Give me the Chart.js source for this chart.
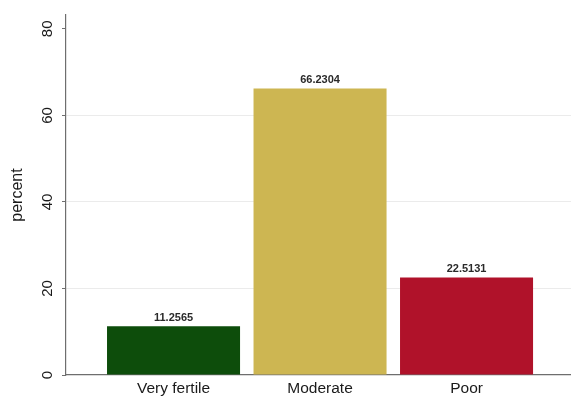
<!DOCTYPE html>
<html>
<head>
<meta charset="utf-8">
<script src="https://cdn.jsdelivr.net/npm/chart.js@4"></script>
<style>
html,body{margin:0;padding:0;background:#fff;}
#wrap{width:571px;height:402px;position:relative;}
</style>
</head>
<body>
<div id="wrap"><canvas id="c" width="571" height="402"></canvas></div>
<script>
const categories = ['Very fertile', 'Moderate', 'Poor'];
const percentValues = [11.2565, 66.2304, 22.5131];
const valueLabels = ['11.2565', '66.2304', '22.5131'];
const yTickValues = [0, 20, 40, 60, 80];
const barColors = ['#0d4d0b', '#cdb652', '#b0122a'];

const FONT = '"Liberation Sans", Arial, Helvetica, sans-serif';

const valueLabelPlugin = {
  id: 'valueLabels',
  afterDatasetsDraw(chart) {
    const ctx = chart.ctx;
    const meta = chart.getDatasetMeta(0);
    ctx.save();
    ctx.fillStyle = '#2a2a2a';
    ctx.font = 'bold 11px ' + FONT;
    ctx.textAlign = 'center';
    ctx.textBaseline = 'alphabetic';
    meta.data.forEach((el, i) => {
      ctx.fillText(valueLabels[i], el.x, el.y - 5.5);
    });
    ctx.restore();
  }
};

new Chart(document.getElementById('c'), {
  type: 'bar',
  data: {
    datasets: [{
      data: percentValues.map((v, i) => ({ x: i + 1, y: v })),
      backgroundColor: barColors,
      borderWidth: 0,
      categoryPercentage: 1,
      barPercentage: 0.908
    }]
  },
  options: {
    responsive: false,
    animation: false,
    devicePixelRatio: 1,
    layout: { padding: { top: 8, right: 0, bottom: 0, left: 0 } },
    plugins: { legend: { display: false }, tooltip: { enabled: false } },
    scales: {
      x: {
        type: 'linear',
        offset: false,
        min: 0.266,
        max: 3.713,
        afterBuildTicks: s => { s.ticks = categories.map((c, i) => ({ value: i + 1 })); },
        afterFit: s => { s.height = 27; },
        grid: { display: false, drawTicks: false, offset: false },
        border: { display: true, color: '#6e6e6e', width: 1.2 },
        ticks: {
          padding: 4,
          color: '#1a1a1a',
          font: { family: FONT, size: 15.5 },
          maxRotation: 0,
          callback: v => categories[Math.round(v) - 1] || ''
        }
      },
      y: {
        type: 'linear',
        min: 0,
        max: 83.2,
        afterBuildTicks: s => { s.ticks = yTickValues.map(v => ({ value: v })); },
        afterFit: s => { s.width = 66; },
        grid: {
          color: ctx => (ctx.tick && (ctx.tick.value === 0 || ctx.tick.value === 80)) ? 'rgba(0,0,0,0)' : '#ebebeb',
          tickColor: '#6e6e6e',
          tickLength: 4,
          lineWidth: 1
        },
        border: { display: true, color: '#6e6e6e', width: 1.2 },
        ticks: {
          minRotation: 90,
          maxRotation: 90,
          crossAlign: 'center',
          padding: 6,
          color: '#1a1a1a',
          font: { family: FONT, size: 15 },
          callback: v => String(v)
        },
        title: {
          display: true,
          text: 'percent',
          color: '#1a1a1a',
          font: { family: FONT, size: 16 },
          padding: { top: 8, bottom: 0 }
        }
      }
    }
  },
  plugins: [valueLabelPlugin]
});
</script>
</body>
</html>
